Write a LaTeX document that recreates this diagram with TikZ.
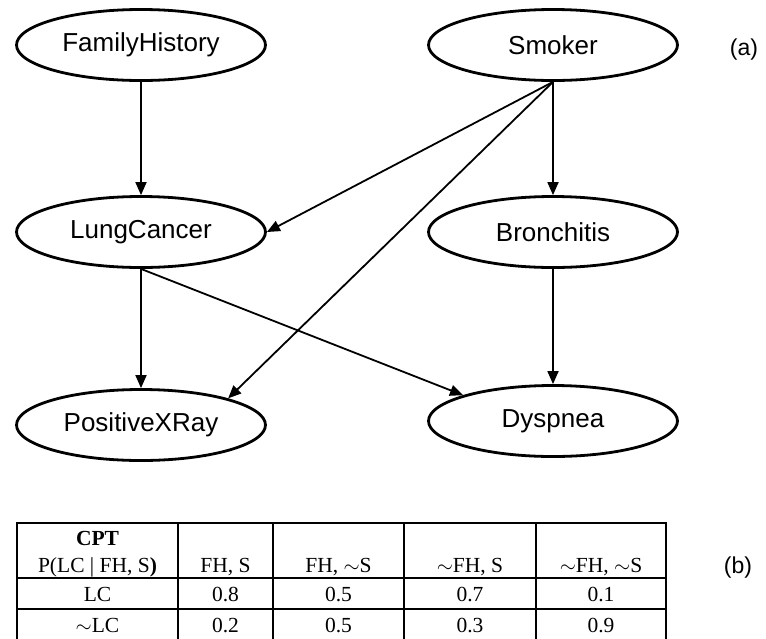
\documentclass[tikz,border=0pt]{standalone}
\usepackage{fontspec}
\setmainfont{Liberation Sans}
\newfontfamily\cptfont{Liberation Serif}
\usetikzlibrary{shapes.geometric,arrows.meta}
\tikzset{
	var/.style={ellipse, draw, line width=2.8pt, minimum width=249pt, minimum height=71pt, inner sep=0pt, font=\fontsize{26}{30}\selectfont},
	link/.style={line width=1.8pt, -{Triangle[length=13pt,width=11pt]}},
	cell/.style={anchor=base, inner sep=0pt, font=\cptfont\fontsize{21.5}{25}\selectfont},
	rule/.style={line width=2.6pt, line cap=rect},
	tag/.style={font=\fontsize{23}{27}\selectfont}
}
\begin{document}
	\begin{tikzpicture}[x=1pt,y=-1pt]
		\useasboundingbox (0,0) rectangle (766,638);
		% network
		\node [var] (fh) at (141,45) {FamilyHistory};
		\node [var] (smoker) at (553,45) {Smoker};
		\node [var] (lc) at (141,232) {LungCancer};
		\node [var] (bron) at (553,232) {Bronchitis};
		\node [var] (xray) at (141,425) {PositiveXRay};
		\node [var] (dysp) at (553,421) {Dyspnea};
		\node [tag] (a) at (744,50) {(a)};
		\draw [link] (fh) -- (lc);
		\draw [link] (smoker.south) -- (lc.east);
		\draw [link] (smoker.south) -- (xray.17);
		\draw [link] (smoker) -- (bron);
		\draw [link] (lc) -- (xray);
		\draw [link] (lc.south) -- (dysp.164);
		\draw [link] (bron) -- (dysp);
		% cpt
		\foreach \x in {17, 178, 273, 404, 536, 666} {
			\draw [rule] (\x,523) -- (\x,645);
		}
		\foreach \y in {523, 578, 609} {
			\draw [rule] (17,\y) -- (666,\y);
		}
		\node [cell, font=\cptfont\fontsize{21.5}{25}\selectfont\bfseries] (cpt) at (97.5,545) {CPT};
		\node [cell] (given) at (97.5,572) {P(LC | FH, S\textbf{)}};
		\node [cell] (lcyes) at (97.5,601) {LC};
		\node [cell] (lcno) at (97.5,632) {$\sim$LC};
		\foreach \x/\h/\p/\q [count=\i] in {225.5/{FH, S}/0.8/0.2, 338.5/{FH, $\sim$S}/0.5/0.5, 470/{$\sim$FH, S}/0.7/0.3, 601/{$\sim$FH, $\sim$S}/0.1/0.9} {
			\node [cell] (h\i) at (\x,572) {\h};
			\node [cell] (p\i) at (\x,601) {\p};
			\node [cell] (q\i) at (\x,632) {\q};
		}
		\node [tag] (b) at (738,568) {(b)};
	\end{tikzpicture}
\end{document}
